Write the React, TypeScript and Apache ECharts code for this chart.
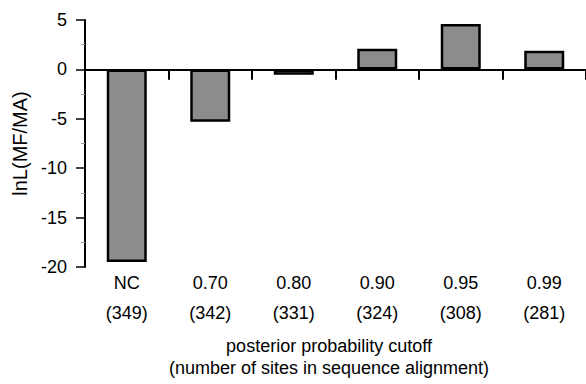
import React, { useEffect, useRef } from "react";
import * as echarts from "echarts";

const categories = ["NC", "0.70", "0.80", "0.90", "0.95", "0.99"];
const siteCounts = ["(349)", "(342)", "(331)", "(324)", "(308)", "(281)"];
const lnLValues = [-19.5, -5.3, -0.55, 2.1, 4.6, 1.9];
const yMin = -20;
const yMax = 5;
const yInterval = 5;

export default function App() {
  const ref = useRef<HTMLDivElement>(null);
  useEffect(() => {
    if (!ref.current) return;
    const chart = echarts.init(ref.current, null, { renderer: "svg" });
    const font = "'Liberation Sans', Arial, sans-serif";
    const bottomLabels = categories.map((c, i) => `${c}\n${siteCounts[i]}`);
    chart.setOption({
      animation: false,
      backgroundColor: "#ffffff",
      grid: { left: 85, right: 0, top: 20, bottom: 112, containLabel: false },
      xAxis: [
        {
          type: "category",
          data: categories,
          position: "bottom",
          axisLine: { show: true, onZero: true, lineStyle: { color: "#000", width: 2 } },
          axisTick: { show: true, interval: 0, length: 10, lineStyle: { color: "#000", width: 2 } },
          axisLabel: { show: false },
          splitLine: { show: false },
          z: 10,
        },
        {
          type: "category",
          data: bottomLabels,
          position: "bottom",
          axisLine: { show: false, onZero: false },
          axisTick: { show: false },
          axisLabel: {
            show: true,
            color: "#000",
            fontFamily: font,
            fontSize: 18,
            lineHeight: 30,
            margin: 1,
            interval: 0,
          },
          name: "posterior probability cutoff\n(number of sites in sequence alignment)",
          nameLocation: "middle",
          nameGap: 68,
          nameTextStyle: {
            color: "#000",
            fontFamily: font,
            fontSize: 18,
            lineHeight: 22,
            padding: [0, 13, 0, 0],
          },
        },
      ],
      yAxis: {
        type: "value",
        min: yMin,
        max: yMax,
        interval: yInterval,
        axisLine: { show: true, lineStyle: { color: "#000", width: 2 } },
        axisTick: { show: true, length: 9, lineStyle: { color: "#000", width: 1.5 } },
        minorTick: { show: true, splitNumber: 2, length: 4, lineStyle: { color: "#999", width: 1 } },
        axisLabel: { color: "#000", fontFamily: font, fontSize: 18, margin: 18 },
        splitLine: { show: false },
        name: "lnL(MF/MA)",
        nameLocation: "middle",
        nameGap: 52,
        nameTextStyle: { color: "#000", fontFamily: font, fontSize: 20 },
      },
      series: [
        {
          type: "bar",
          xAxisIndex: 0,
          data: lnLValues,
          barWidth: 40,
          itemStyle: { color: "#8c8c8c", borderColor: "#000", borderWidth: 2.5 },
        },
        {
          type: "custom",
          xAxisIndex: 0,
          silent: true,
          clip: false,
          z: 12,
          data: categories.map((_, i) => [i, 0]),
          renderItem: (params: any, api: any) => {
            const pt = api.coord([api.value(0), api.value(1)]);
            const band = api.size([1, 0])[0];
            const x = Math.round(pt[0] + band / 2);
            return {
              type: "rect",
              shape: { x: x - 1, y: pt[1], width: 2, height: 10 },
              style: { fill: "#000" },
            };
          },
        },
      ],
    });
    return () => chart.dispose();
  }, []);
  return <div ref={ref} style={{ width: 586, height: 384, position: "absolute", left: 0, top: 0 }} />;
}
